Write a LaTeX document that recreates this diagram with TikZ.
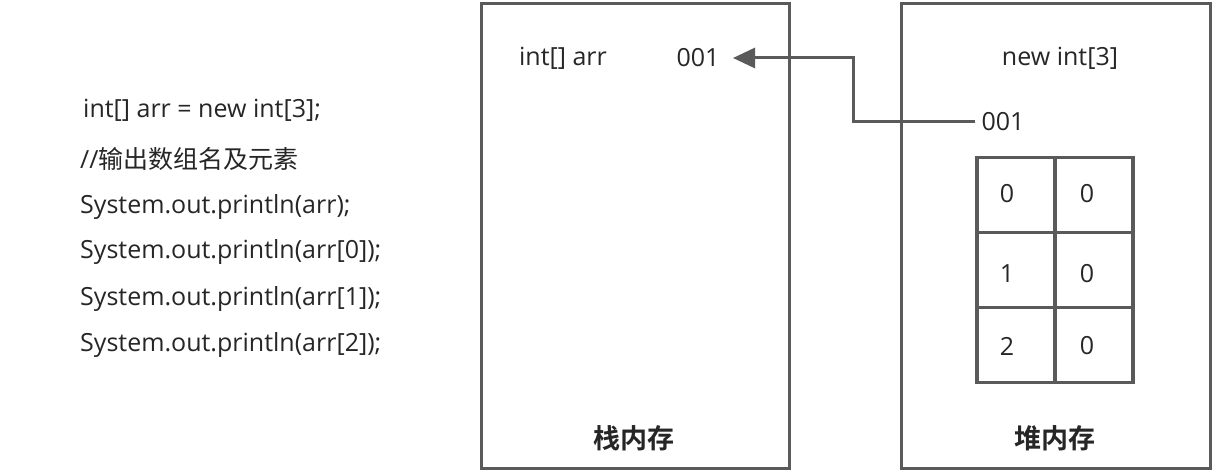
\documentclass[tikz,border=0pt]{standalone}
\usepackage{fontspec}
\setmainfont{Open Sans}
\newfontfamily\cjk{Noto Sans CJK SC}
\newfontfamily\cjkb{Noto Sans CJK SC Bold}
\usetikzlibrary{arrows.meta}
\definecolor{linegray}{HTML}{5A5A5A}
\definecolor{txt}{HTML}{262626}
\tikzset{
  x=1pt,y=-1pt,
  box/.style={draw=linegray,line width=3pt},
  cell/.style={draw=linegray,line width=3.5pt,minimum width=78pt,minimum height=75pt,inner sep=0pt},
  lbl/.style={font=\fontsize{25}{30}\selectfont,text=txt,inner sep=0pt},
  code/.style={font=\fontsize{25}{30}\selectfont,text=txt,inner sep=0pt,anchor=west},
  title/.style={font=\cjkb\fontsize{27}{32}\selectfont,text=txt,inner sep=0pt},
  ptr/.style={draw=linegray,line width=3pt,-{Triangle[length=22pt,width=20pt]}}
}
\begin{document}
\begin{tikzpicture}
\useasboundingbox (0,0) rectangle (1220,473);
\fill[white] (0,0) rectangle (1220,473);
% code
\node[code] (c1) at (83,110) {int[] arr = new int[3];};
\node[code] (c2) at (80,159) {//{\cjk 输出数组名及元素}};
\node[code] (c3) at (80,207) {System.out.println(arr);};
\node[code] (c4) at (80,252) {System.out.println(arr[0]);};
\node[code] (c5) at (80,299) {System.out.println(arr[1]);};
\node[code] (c6) at (80,345) {System.out.println(arr[2]);};
% stack box
\node[box,minimum width=308pt,minimum height=464pt,inner sep=0pt] (stack) at (635,236) {};
\node[lbl] (var) at (563,58) {int[] arr};
\node[lbl] (ref) at (698,58) {001};
\node[title] (st) at (634,438) {栈内存};
% heap box
\node[box,minimum width=309pt,minimum height=464pt,inner sep=0pt] (heap) at (1055.5,236) {};
\node[lbl] (new) at (1060,58) {new int[3]};
\node[lbl] (addr) at (1003,122) {001};
\node[title] (ht) at (1055,438) {堆内存};
% grid
\node[cell] (a0) at (1016,195) {};
\node[cell] (b0) at (1094,195) {};
\node[cell] (a1) at (1016,270) {};
\node[cell] (b1) at (1094,270) {};
\node[cell] (a2) at (1016,345) {};
\node[cell] (b2) at (1094,345) {};
\node[lbl] (ta0) at (1007,194) {0};
\node[lbl] (tb0) at (1087,194) {0};
\node[lbl] (ta1) at (1007,274) {1};
\node[lbl] (tb1) at (1087,274) {0};
\node[lbl] (ta2) at (1007,346) {2};
\node[lbl] (tb2) at (1087,346) {0};
% pointer
\coordinate (tip) at (733,58);
\draw[ptr] ([xshift=-6pt]addr.west) -| (853,58) -- (tip);
\end{tikzpicture}
\end{document}
